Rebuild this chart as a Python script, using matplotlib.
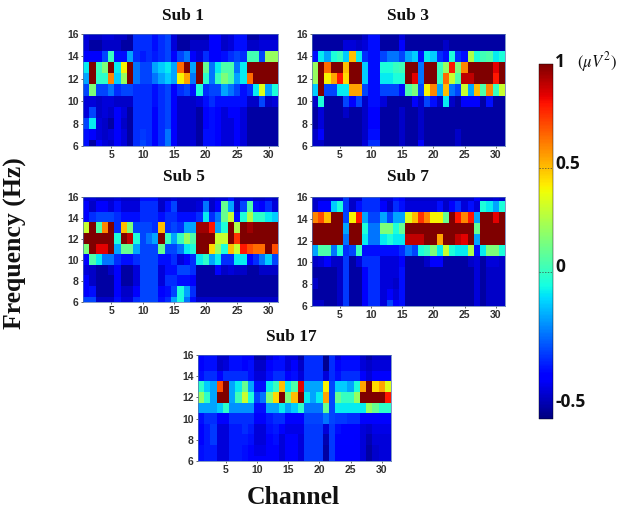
import numpy as np
import matplotlib
matplotlib.use("Agg")
import matplotlib.pyplot as plt

W, H = 626, 511

# rows run from 16 Hz (top) down to 6 Hz, columns are channels 1..31
sub1 = [
    [-.57,-.6,-.6,-.57,-.57,-.6,-.6,-.65,-.42,-.42,-.42,-.47,-.42,-.38,-.57,-.65,-.65,-.65,-.65,-.65,-.52,-.52,-.6,-.57,-.47,-.47,-.65,-.65,-.6,-.6,-.6],
    [-.57,-.65,-.65,-.6,-.6,-.6,-.65,-.65,-.42,-.42,-.42,-.47,-.42,-.38,-.57,-.65,-.65,-.6,-.6,-.6,-.52,-.52,-.6,-.57,-.47,-.47,-.6,-.6,-.57,-.57,-.57],
    [-.52,-.52,-.52,-.38,0,-.47,-.47,-.22,-.42,-.45,-.42,-.45,-.42,-.38,-.52,-.38,-.3,-.52,-.57,-.42,-.52,-.52,-.47,-.42,-.38,-.42,.03,.03,-.38,.2,.2],
    [-.1,1,0,.15,1,-.1,.4,1,-.3,-.38,-.38,-.22,-.15,-.1,-.22,.65,1,-.22,1,.1,-.3,-.1,.05,.05,-.3,-.1,1,1,1,1,1],
    [-.22,1,-.02,-.02,.6,-.15,.2,1,-.3,-.38,-.38,-.3,-.22,-.15,-.22,.4,.55,-.3,1,-.02,-.3,0,.15,.05,-.22,-.1,.65,1,1,1,1],
    [-.38,.15,-.38,-.38,-.3,-.42,-.38,-.38,-.42,-.42,-.42,-.47,-.42,-.38,-.52,-.42,-.38,-.47,-.05,-.42,-.38,-.38,-.22,-.3,-.38,-.47,-.42,-.1,.35,-.22,-.05],
    [-.57,-.57,-.6,-.57,-.57,-.6,-.6,-.6,-.42,-.42,-.42,-.47,-.42,-.38,-.52,-.6,-.6,-.6,-.57,-.47,-.42,-.47,-.47,-.47,-.47,-.47,-.6,-.6,-.38,-.6,-.57],
    [-.57,-.38,-.6,-.57,-.6,-.52,-.57,-.65,-.42,-.42,-.42,-.52,-.42,-.38,-.52,-.6,-.6,-.6,-.65,-.52,-.47,-.52,-.57,-.52,-.52,-.57,-.65,-.65,-.65,-.65,-.65],
    [-.38,-.1,-.57,-.6,-.65,-.52,-.6,-.65,-.42,-.42,-.42,-.52,-.42,-.38,-.52,-.6,-.6,-.6,-.65,-.52,-.47,-.52,-.57,-.57,-.52,-.57,-.65,-.65,-.65,-.65,-.65],
    [-.47,-.52,-.57,-.6,-.57,-.52,-.57,-.65,-.42,-.4,-.42,-.52,-.42,-.3,-.52,-.6,-.6,-.6,-.65,-.47,-.47,-.52,-.57,-.57,-.52,-.57,-.65,-.65,-.65,-.65,-.65],
    [-.47,-.65,-.52,-.57,-.6,-.52,-.57,-.65,-.42,-.38,-.42,-.52,-.42,-.3,-.52,-.6,-.6,-.57,-.65,-.47,-.47,-.52,-.57,-.57,-.52,-.57,-.65,-.65,-.65,-.65,-.65],
]
sub3 = [
    [-.65,-.65,-.65,-.65,-.65,-.65,-.65,-.65,-.6,-.47,-.47,-.65,-.65,-.65,-.57,-.65,-.65,-.65,-.65,-.65,-.65,-.65,-.65,-.65,-.65,-.65,-.65,-.65,-.65,-.65,-.65],
    [-.65,-.65,-.65,-.65,-.65,-.57,-.57,-.6,-.57,-.47,-.47,-.65,-.65,-.65,-.52,-.65,-.65,-.65,-.65,-.65,-.65,-.6,-.65,-.65,-.65,-.65,-.65,-.65,-.65,-.65,-.65],
    [-.47,-.1,-.22,-.05,0,-.15,.5,-.1,-.42,-.47,-.47,-.38,-.3,-.3,-.38,-.22,-.15,-.47,-.1,-.15,-.42,-.47,-.05,-.42,-.47,.25,-.05,.02,.05,-.1,-.05],
    [.2,1,.65,1,1,.5,1,1,-.15,-.47,-.47,-.05,-.05,0,.02,1,1,-.3,1,1,0,.2,.8,.15,.6,1,1,1,1,.85,1],
    [.2,1,.4,.55,.8,.45,1,1,-.15,-.47,-.47,-.1,-.1,-.05,-.05,1,.85,-.3,1,1,0,.65,.3,.05,.9,.9,1,1,1,.8,1],
    [-.15,1,-.38,-.38,-.1,-.1,.55,.55,-.38,-.47,-.47,-.38,-.38,-.38,-.47,.05,.15,-.38,.4,.6,-.22,.5,-.3,-.38,.3,-.22,.5,.05,.6,0,.3],
    [-.6,-.05,-.65,-.65,-.65,-.38,-.52,-.38,-.6,-.47,-.47,-.57,-.65,-.65,-.65,-.65,-.52,-.6,-.38,-.47,-.6,-.1,-.6,-.65,-.52,-.52,-.52,-.65,-.47,-.65,-.65],
    [-.65,-.57,-.65,-.65,-.65,-.6,-.65,-.65,-.6,-.5,-.5,-.65,-.65,-.65,-.6,-.65,-.65,-.6,-.65,-.65,-.65,-.65,-.65,-.65,-.65,-.65,-.65,-.65,-.65,-.65,-.65],
    [-.65,-.57,-.65,-.65,-.65,-.65,-.65,-.65,-.6,-.5,-.5,-.65,-.65,-.65,-.6,-.65,-.65,-.6,-.65,-.65,-.65,-.65,-.65,-.65,-.65,-.65,-.65,-.65,-.65,-.65,-.65],
    [-.6,-.52,-.65,-.65,-.65,-.65,-.65,-.65,-.6,-.47,-.47,-.65,-.65,-.65,-.6,-.65,-.65,-.6,-.65,-.65,-.65,-.65,-.65,-.6,-.65,-.65,-.65,-.65,-.65,-.65,-.65],
    [-.6,-.6,-.65,-.65,-.65,-.65,-.65,-.65,-.57,-.42,-.42,-.65,-.65,-.65,-.6,-.65,-.65,-.52,-.65,-.65,-.65,-.65,-.65,-.6,-.65,-.65,-.65,-.65,-.65,-.65,-.65],
]
sub5 = [
    [-.57,-.57,-.6,-.6,-.6,-.57,-.6,-.6,-.6,-.47,-.47,-.47,-.6,-.6,-.57,-.6,-.6,-.6,-.6,-.57,-.6,-.57,-.57,-.47,-.6,-.57,-.57,-.6,-.6,-.57,-.6],
    [-.52,-.6,-.52,-.52,-.57,-.47,-.57,-.57,-.57,-.42,-.42,-.42,-.6,-.47,-.38,-.6,-.6,-.6,-.57,-.3,-.6,-.52,.1,-.22,-.6,-.38,.05,-.47,-.52,-.42,-.57],
    [-.52,-.42,-.38,-.38,-.38,-.42,-.47,-.47,-.47,-.42,-.42,-.42,-.47,-.42,-.42,-.47,-.47,-.47,-.42,-.1,-.42,-.3,.1,.3,-.47,-.05,.25,-.02,-.02,-.1,-.15],
    [.3,1,.05,.6,1,-.42,.5,.15,-.38,-.38,-.38,-.42,.5,-.42,-.38,-.42,-.22,-.22,.95,.95,.8,-.22,-.05,1,.25,1,.95,1,1,1,1],
    [1,1,1,1,1,-.05,1,.9,-.05,-.38,-.3,-.22,1,0,-.22,0,.2,.05,1,1,1,.3,.3,1,.75,1,1,1,1,1,1],
    [.15,1,.85,.85,1,-.22,.1,.1,-.22,-.38,-.38,-.38,.1,-.38,-.38,-.3,-.1,-.05,1,1,.45,.2,-.05,.5,.3,.8,.7,.65,.65,1,.7],
    [-.52,.05,-.1,-.3,-.3,-.42,-.47,-.47,-.42,-.38,-.38,-.38,-.47,-.47,-.42,-.57,-.52,-.42,-.1,-.02,-.22,-.1,-.42,-.42,-.1,-.1,-.52,-.42,-.3,-.15,-.38],
    [-.57,-.6,-.65,-.65,-.6,-.52,-.65,-.65,-.57,-.38,-.38,-.38,-.57,-.47,-.47,-.38,-.38,-.42,-.65,-.65,-.65,-.52,-.6,-.57,-.6,-.6,-.65,-.65,-.6,-.6,-.6],
    [-.52,-.6,-.65,-.65,-.65,-.52,-.65,-.65,-.57,-.38,-.38,-.38,-.57,-.42,-.42,-.47,-.47,-.52,-.65,-.65,-.65,-.65,-.65,-.65,-.65,-.65,-.65,-.65,-.65,-.65,-.65],
    [-.52,-.47,-.65,-.65,-.65,-.52,-.6,-.6,-.52,-.38,-.38,-.38,-.52,-.47,-.38,-.05,-.22,-.42,-.65,-.65,-.65,-.65,-.65,-.65,-.65,-.65,-.65,-.65,-.65,-.65,-.65],
    [-.38,-.38,-.6,-.6,-.6,-.47,-.57,-.57,-.42,-.38,-.38,-.38,-.47,-.42,-.22,-.05,-.3,-.47,-.6,-.6,-.6,-.6,-.6,-.6,-.6,-.6,-.6,-.6,-.6,-.6,-.6],
]
sub7 = [
    [-.6,-.6,-.6,-.6,-.6,-.4,-.6,-.6,-.42,-.42,-.42,-.57,-.57,-.47,-.52,-.6,-.6,-.6,-.6,-.6,-.6,-.6,-.6,-.6,-.6,-.6,-.52,-.6,-.6,-.57,-.6],
    [-.6,-.52,-.52,-.15,-.05,-.4,-.6,-.47,-.42,-.42,-.42,-.52,-.6,-.42,-.47,-.57,-.57,-.57,-.57,-.57,-.47,-.6,-.52,-.42,-.57,-.47,-.57,-.05,-.1,-.22,-.05],
    [.6,.7,.5,1,1,-.38,.4,.8,-.22,-.38,-.38,-.22,-.38,-.22,-.22,.35,.5,.75,.6,.4,.4,.1,1,.8,.6,.8,-.22,1,1,.85,1],
    [1,1,1,1,1,-.22,1,1,-.05,-.3,-.3,.15,.15,-.05,.1,1,1,1,1,1,1,1,1,1,1,1,.1,1,1,1,1],
    [1,1,1,1,1,-.3,1,1,-.1,-.3,-.3,-.1,-.05,-.1,-.1,.9,.9,.9,1,1,.55,1,1,.9,.85,1,-.22,1,1,1,1],
    [-.22,.05,.05,-.3,-.05,-.42,-.38,0,-.47,-.47,-.47,-.47,-.47,-.47,-.42,-.3,-.38,-.05,0,.15,-.1,.3,-.05,-.1,-.1,.25,-.47,-.1,.15,.15,-.05],
    [-.6,-.57,-.52,-.6,-.6,-.4,-.65,-.57,-.42,-.42,-.42,-.57,-.57,-.57,-.52,-.65,-.65,-.65,-.6,-.52,-.52,-.65,-.65,-.65,-.65,-.6,-.57,-.65,-.57,-.57,-.6],
    [-.65,-.65,-.65,-.65,-.6,-.4,-.65,-.65,-.52,-.42,-.42,-.57,-.57,-.57,-.47,-.65,-.65,-.65,-.65,-.65,-.65,-.65,-.65,-.65,-.65,-.65,-.57,-.65,-.6,-.6,-.6],
    [-.6,-.65,-.65,-.65,-.6,-.4,-.65,-.65,-.52,-.42,-.42,-.57,-.57,-.6,-.47,-.65,-.65,-.65,-.65,-.65,-.65,-.65,-.65,-.65,-.65,-.65,-.57,-.65,-.6,-.6,-.6],
    [-.65,-.65,-.65,-.65,-.6,-.4,-.65,-.65,-.52,-.42,-.42,-.57,-.52,-.57,-.47,-.65,-.65,-.65,-.65,-.65,-.65,-.65,-.65,-.65,-.65,-.65,-.57,-.65,-.6,-.6,-.6],
    [-.6,-.6,-.65,-.65,-.6,-.4,-.65,-.65,-.52,-.42,-.42,-.57,-.38,-.52,-.47,-.65,-.65,-.65,-.65,-.65,-.65,-.65,-.65,-.65,-.65,-.65,-.57,-.65,-.6,-.6,-.6],
]
sub17 = [
    [-.52,-.47,-.47,-.6,-.6,-.47,-.47,-.52,-.52,-.65,-.65,-.57,-.52,-.47,-.57,-.57,-.65,-.42,-.42,-.42,-.68,-.42,-.57,-.52,-.52,-.52,-.6,-.65,-.6,-.6,-.6],
    [-.52,-.47,-.47,-.6,-.57,-.47,-.47,-.52,-.47,-.6,-.6,-.52,-.47,-.47,-.57,-.52,-.6,-.42,-.42,-.42,-.68,-.42,-.52,-.47,-.47,-.47,-.57,-.6,-.57,-.57,-.57],
    [-.47,-.42,-.42,-.52,-.42,-.42,-.42,-.42,-.47,-.57,-.57,-.47,-.42,-.42,-.52,-.47,-.57,-.42,-.42,-.42,-.57,-.42,-.47,-.42,-.42,-.42,-.52,-.57,-.52,-.52,-.52],
    [-.02,-.15,-.22,.7,1,-.22,-.1,.1,-.22,-.47,-.47,-.1,0,.5,-.1,.05,.85,-.22,-.22,-.22,.4,-.38,-.15,-.15,-.22,-.05,.55,1,.45,.55,.35],
    [.2,-.02,-.22,1,1,-.22,.02,.3,-.05,-.38,-.3,.15,.45,1,.15,.5,1,-.1,-.22,-.1,.55,-.38,.1,0,0,.2,1,1,1,1,.8],
    [-.22,-.22,-.22,-.15,-.02,-.25,-.25,-.25,-.25,-.47,-.47,-.22,-.22,-.1,-.22,-.15,-.02,-.3,-.3,-.3,.1,-.38,-.1,-.1,-.1,-.1,-.1,.2,.1,-.02,-.02],
    [-.47,-.42,-.42,-.52,-.52,-.42,-.42,-.42,-.42,-.52,-.52,-.45,-.42,-.42,-.49,-.49,-.49,-.38,-.38,-.38,-.3,-.38,-.4,-.4,-.42,-.42,-.49,-.52,-.49,-.49,-.49],
    [-.49,-.45,-.4,-.57,-.57,-.45,-.45,-.42,-.45,-.57,-.57,-.47,-.45,-.49,-.55,-.55,-.55,-.4,-.4,-.4,-.57,-.4,-.47,-.49,-.49,-.49,-.57,-.59,-.55,-.55,-.55],
    [-.49,-.45,-.4,-.57,-.57,-.45,-.45,-.45,-.47,-.57,-.57,-.49,-.47,-.57,-.52,-.52,-.57,-.4,-.4,-.4,-.63,-.4,-.49,-.49,-.49,-.52,-.57,-.63,-.57,-.57,-.57],
    [-.47,-.45,-.45,-.57,-.57,-.45,-.45,-.47,-.49,-.55,-.55,-.49,-.49,-.57,-.52,-.49,-.57,-.4,-.4,-.4,-.65,-.4,-.52,-.52,-.52,-.52,-.57,-.65,-.59,-.57,-.57],
    [-.47,-.45,-.45,-.57,-.57,-.45,-.45,-.47,-.49,-.52,-.52,-.49,-.49,-.57,-.52,-.49,-.57,-.4,-.4,-.4,-.65,-.4,-.52,-.52,-.52,-.52,-.57,-.65,-.59,-.57,-.57],
]

titles = ["Sub 1", "Sub 3", "Sub 5", "Sub 7", "Sub 17"]
panels = [sub1, sub3, sub5, sub7, sub17]
# panel boxes in reference pixels: left, top, right, bottom
boxes = [(83, 34, 278, 146), (312, 34, 505, 146), (83, 197, 278, 302),
         (312, 197, 505, 306), (198, 355, 391, 461)]
title_xy = [(183, 16), (408, 16), (184, 177), (408, 177), (291, 337)]
vmin, vmax = -0.707, 1.0
xticks = [5, 10, 15, 20, 25, 30]
yticks = [6, 8, 10, 12, 14, 16]


def px_axes(fig, l, t, r, b):
    return fig.add_axes([l / W, 1 - b / H, (r - l) / W, (b - t) / H])


fig = plt.figure(figsize=(W / 100, H / 100), dpi=100)
serif = "Liberation Serif"
sans = "Liberation Sans"

for name, data, box, (tx, ty) in zip(titles, panels, boxes, title_xy):
    ax = px_axes(fig, *box)
    im = ax.imshow(np.array(data), cmap="jet", vmin=vmin, vmax=vmax, aspect="auto",
                   extent=[0.5, 31.5, 5.5, 16.5], interpolation="nearest")
    ax.set_ylim(6, 16)
    ax.set_xticks(xticks)
    ax.set_yticks(yticks)
    ax.tick_params(length=1.5, width=0.5, labelsize=7.5, pad=1.5, colors="#303030")
    for lab in ax.get_xticklabels() + ax.get_yticklabels():
        lab.set_fontweight("bold")
        lab.set_family(sans)
    for s in ax.spines.values():
        s.set_linewidth(0.5)
        s.set_color("#5070b0")
    fig.text(tx / W, 1 - ty / H, name, family=serif, fontweight="bold", fontsize=12.5,
             ha="center", va="center", color="#111111")

# colorbar
cax = px_axes(fig, 539, 64, 553, 419)
cb = fig.colorbar(im, cax=cax, ticks=[])
cb.outline.set_linewidth(0.3)
for v in [0, 0.5]:
    cax.axhline(v, color="#444444", lw=0.5, ls=(0, (2, 2)))

cb_labels = ["1", "0.5", "0", "-0.5"]
cb_label_y = [62, 164, 267, 402]
for s, y in zip(cb_labels, cb_label_y):
    fig.text(555 / W, 1 - y / H, s, family="Open Sans", fontweight="bold", fontsize=12.5,
             ha="left", va="center", color="#111111")
fig.text(577 / W, 1 - 62 / H, r"$(\mu V^2)$", fontsize=12, ha="left", va="center",
         color="#111111", math_fontfamily="stix")

fig.text(15 / W, 1 - 243 / H, "Frequency (Hz)", family=serif, fontweight="bold", fontsize=18.5,
         rotation=90, ha="center", va="center", color="#111111")
fig.text(293 / W, 1 - 497 / H, "Channel", family=serif, fontweight="bold", fontsize=18.5,
         ha="center", va="center", color="#111111")

fig.savefig("out.png", dpi=100)
